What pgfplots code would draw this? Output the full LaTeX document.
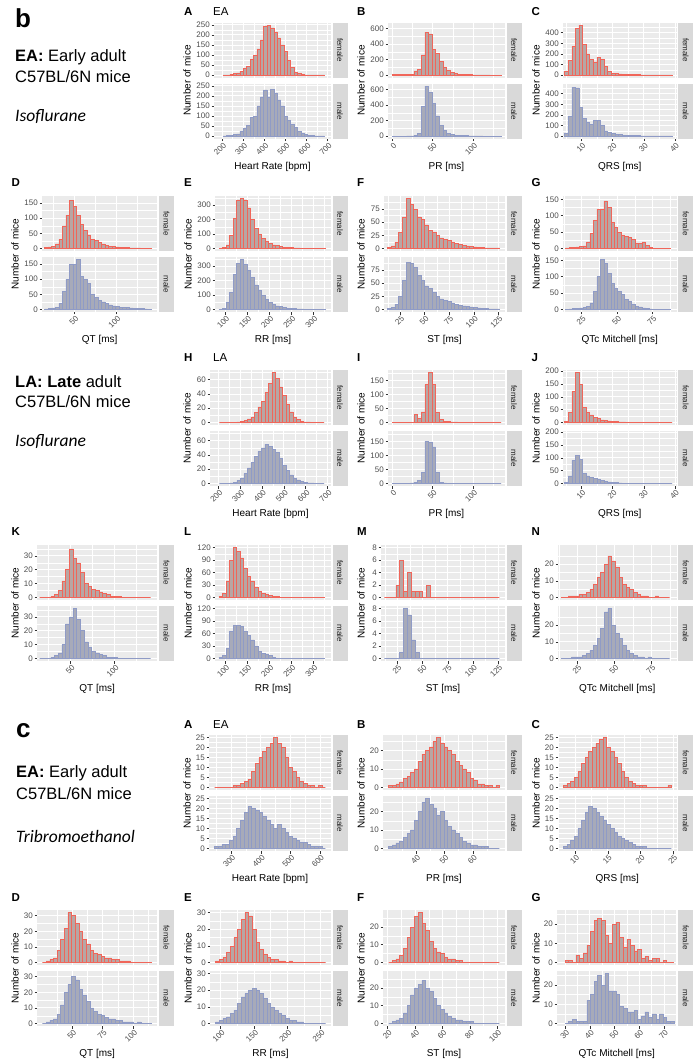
\documentclass[border=0pt]{standalone}
\usepackage{pgfplots}
\pgfplotsset{compat=1.18}
\usepackage{pgfplotstable}
\usepackage{fontspec}
\setmainfont{Liberation Sans}
\newfontfamily\calib{Carlito}

\definecolor{panelbg}{HTML}{EBEBEB}
\definecolor{stripbg}{HTML}{D9D9D9}
\definecolor{ticktxt}{HTML}{4D4D4D}
\definecolor{tickln}{HTML}{333333}
\definecolor{femline}{HTML}{F0665A}
\definecolor{femfill}{HTML}{B8A6A4}
\definecolor{malline}{HTML}{8F9BC6}
\definecolor{malfill}{HTML}{A7AAB9}

% ---------- data: bin centre, female count, male count ----------
\pgfplotstableread{
x f m
213 1 1
229 2 3
245 4 5
261 8 8
277 12 12
293 20 25
309 35 40
325 45 55
341 80 95
357 100 100
373 130 150
389 175 195
405 245 230
421 248 195
437 235 232
453 215 215
469 185 180
485 150 150
501 120 100
517 75 80
533 40 60
549 15 45
565 8 25
581 3 15
597 2 8
613 2 5
629 1 3
645 1 2
661 1 1
677 1 1
}\tA
\pgfplotstableread{
x f m
2 8 2
6.5 8 2
11 8 2
15.5 8 2
20 8 3
24.5 10 5
29 55 15
33.5 75 40
38 260 380
42.5 550 640
47 530 560
51.5 330 420
56 280 260
60.5 180 140
65 100 70
69.5 60 40
74 40 25
78.5 25 15
83 15 10
87.5 10 8
92 8 6
96.5 6 5
101 5 4
105.5 4 3
110 4 3
114.5 3 2
119 3 2
123.5 2 2
128 2 2
132.5 2 2
}\tB
\pgfplotstableread{
x f m
5.2 40 30
6.35 140 190
7.5 270 460
8.65 440 455
9.8 470 270
10.95 290 170
12.1 200 130
13.25 150 110
14.4 125 150
15.55 170 150
16.7 150 100
17.85 80 50
19 40 35
20.15 20 25
21.3 15 20
22.45 12 15
23.6 10 10
24.75 8 8
25.9 6 6
27.05 5 5
28.2 5 5
29.35 4 4
30.5 4 3
31.65 3 3
32.8 3 3
33.95 3 2
35.1 2 2
36.25 2 2
37.4 2 2
38.55 2 2
}\tC
\pgfplotstableread{
x f m
17 3 2
21.2 5 3
25.4 8 5
29.6 15 8
33.8 30 20
38 75 60
42.2 110 100
46.4 160 150
50.6 140 150
54.8 110 165
59 80 110
63.2 60 100
67.4 45 85
71.6 30 50
75.8 28 40
80 20 30
84.2 15 25
88.4 10 20
92.6 8 15
96.8 6 12
101 5 10
105.2 4 8
109.4 3 7
113.6 3 6
117.8 2 5
122 2 4
126.2 2 3
130.4 1 3
134.6 1 2
138.8 1 1
}\tD
\pgfplotstableread{
x f m
90 3 2
98 10 10
106 25 50
114 90 120
122 210 240
130 335 320
138 345 345
146 335 310
154 280 270
162 200 220
170 140 170
178 100 130
186 70 100
194 50 70
202 35 50
210 25 35
218 20 25
226 15 20
234 10 15
242 8 10
250 6 8
258 5 6
266 4 5
274 3 4
282 3 3
290 2 2
298 2 2
306 2 1
314 1 1
322 1 1
}\tE
\pgfplotstableread{
x f m
14 2 2
17.8 5 4
21.6 12 10
25.4 30 25
29.2 60 55
33 95 90
36.8 85 88
40.6 75 80
44.4 60 65
48.2 55 55
52 45 45
55.8 35 40
59.6 30 32
63.4 25 25
67.2 20 20
71 18 18
74.8 15 15
78.6 12 12
82.4 10 10
86.2 8 8
90 6 7
93.8 5 6
97.6 4 5
101.4 3 4
105.2 2 3
109 2 2
112.8 1 2
116.6 1 1
120.4 1 1
124.2 1 1
}\tF
\pgfplotstableread{
x f m
15 2 1
17.45 3 2
19.9 4 3
22.35 5 4
24.8 6 5
27.25 8 6
29.7 20 10
32.15 45 20
34.6 85 55
37.05 120 100
39.5 120 152
41.95 145 140
44.4 125 110
46.85 80 80
49.3 65 65
51.75 50 55
54.2 40 45
56.65 38 30
59.1 35 25
61.55 28 15
64 15 10
66.45 15 8
68.9 20 5
71.35 10 3
73.8 3 2
76.25 1 1
78.7 1 1
81.15 1 1
83.6 1 1
86.05 1 1
}\tG
\pgfplotstableread{
x f m
213 0 0
229 0 0
245 0 0
261 0 1
277 0 2
293 1 4
309 2 8
325 3 14
341 5 22
357 8 30
373 14 38
389 22 45
405 30 50
421 42 55
437 55 52
453 70 48
469 62 44
485 50 35
501 38 25
517 25 18
533 15 12
549 8 8
565 4 5
581 2 3
597 1 2
613 1 1
629 0 1
645 0 0
661 0 0
677 0 0
}\tH
\pgfplotstableread{
x f m
2 0 0
6.5 0 0
11 0 0
15.5 0 0
20 0 1
24.5 0 2
29 28 5
33.5 15 10
38 38 40
42.5 135 150
47 178 148
51.5 135 130
56 35 40
60.5 10 5
65 5 2
69.5 3 1
74 2 1
78.5 2 1
83 1 1
87.5 1 1
92 1 1
96.5 1 1
101 1 1
105.5 1 1
110 1 1
114.5 1 1
119 1 0
123.5 0 0
128 0 0
132.5 0 0
}\tI
\pgfplotstableread{
x f m
5.2 5 5
6.35 40 30
7.5 120 90
8.65 195 110
9.8 150 95
10.95 60 40
12.1 40 30
13.25 30 25
14.4 20 20
15.55 15 15
16.7 10 12
17.85 8 8
19 6 6
20.15 4 4
21.3 3 3
22.45 2 2
23.6 2 1
24.75 1 1
25.9 1 1
27.05 1 1
28.2 1 1
29.35 1 1
30.5 1 0
31.65 1 0
32.8 0 0
33.95 0 0
35.1 0 0
36.25 0 0
37.4 0 0
38.55 0 0
}\tJ
\pgfplotstableread{
x f m
17 0 0
21.2 0 0
25.4 0 0
29.6 1 1
33.8 2 2
38 5 4
42.2 12 10
46.4 20 25
50.6 35 30
54.8 28 36
59 25 28
63.2 18 20
67.4 10 12
71.6 8 8
75.8 6 5
80 5 4
84.2 4 3
88.4 3 2
92.6 2 1
96.8 1 1
101 1 1
105.2 1 0
109.4 0 0
113.6 0 0
117.8 0 0
122 0 0
126.2 0 0
130.4 0 0
134.6 0 0
138.8 0 0
}\tK
\pgfplotstableread{
x f m
90 2 3
98 10 8
106 40 25
114 90 65
122 120 80
130 110 80
138 95 78
146 70 65
154 50 55
162 40 45
170 25 30
178 15 18
186 10 12
194 8 10
202 5 8
210 3 2
218 2 1
226 1 1
234 1 1
242 1 1
250 1 1
258 0 1
266 0 1
274 0 1
282 0 1
290 0 1
298 0 1
306 0 1
314 0 1
322 0 0
}\tL
\pgfplotstableread{
x f m
14 0 0
17.8 0 0
21.6 0 0
25.4 2 0
29.2 6 1
33 1 8
36.8 4 7
40.6 1 3
44.4 1 1
48.2 1 0
52 0 0
55.8 2 0
59.6 0 0
63.4 0 0
67.2 0 0
71 0 0
74.8 0 0
78.6 0 0
82.4 0 0
86.2 0 0
90 0 0
93.8 0 0
97.6 0 0
101.4 0 0
105.2 0 0
109 0 0
112.8 0 0
116.6 0 0
120.4 0 0
124.2 0 0
}\tM
\pgfplotstableread{
x f m
15 0 0
17.45 0 0
19.9 1 0
22.35 1 1
24.8 1 1
27.25 2 1
29.7 2 2
32.15 3 3
34.6 5 5
37.05 8 8
39.5 12 12
41.95 15 18
44.4 20 28
46.85 25 30
49.3 22 20
51.75 18 15
54.2 12 12
56.65 8 8
59.1 6 5
61.55 5 3
64 3 2
66.45 2 1
68.9 1 1
71.35 1 0
73.8 0 1
76.25 0 0
78.7 1 0
81.15 0 0
83.6 0 0
86.05 0 0
}\tN
\pgfplotstableread{
x f m
250 0 1
262.5 0 1
275 0 2
287.5 0 2
300 0 4
312.5 1 6
325 1 10
337.5 2 14
350 3 18
362.5 4 21
375 8 20
387.5 12 19
400 15 18
412.5 18 16
425 20 14
437.5 22 12
450 25 10
462.5 22 12
475 20 10
487.5 15 8
500 10 6
512.5 8 5
525 5 4
537.5 3 3
550 2 3
562.5 1 2
575 1 1
587.5 0 1
600 1 1
612.5 0 0
}\uA
\pgfplotstableread{
x f m
31 1 1
32.3 1 2
33.6 2 3
34.9 3 4
36.2 5 6
37.5 6 8
38.8 8 10
40.1 10 15
41.4 14 20
42.7 18 25
44 20 27
45.3 22 24
46.6 25 22
47.9 27 18
49.2 24 20
50.5 22 15
51.8 20 12
53.1 18 10
54.4 14 8
55.7 12 6
57 10 4
58.3 8 3
59.6 5 2
60.9 4 2
62.2 2 1
63.5 2 1
64.8 1 1
66.1 1 0
67.4 0 0
68.7 1 0
}\uB
\pgfplotstableread{
x f m
8.5 1 1
9.05 2 2
9.6 3 4
10.15 5 6
10.7 8 10
11.25 12 14
11.8 15 18
12.35 18 21
12.9 20 20
13.45 22 18
14 24 16
14.55 25 14
15.1 20 12
15.65 18 10
16.2 15 8
16.75 12 6
17.3 8 5
17.85 5 4
18.4 3 3
18.95 2 2
19.5 1 1
20.05 1 1
20.6 1 1
21.15 0 0
21.7 0 0
22.25 0 0
22.8 0 0
23.35 0 0
23.9 0 0
24.45 1 0
}\uC
\pgfplotstableread{
x f m
27 0 0
30 1 1
33 2 2
36 3 3
39 8 6
42 15 12
45 22 20
48 32 25
51 30 30
54 25 28
57 20 22
60 15 18
63 12 14
66 8 10
69 6 8
72 5 6
75 4 5
78 3 4
81 3 3
84 2 3
87 2 2
90 1 2
93 1 1
96 1 1
99 0 1
102 0 0
105 0 1
108 0 0
111 0 0
114 0 0
}\uD
\pgfplotstableread{
x f m
95 1 1
100.5 2 2
106 3 3
111.5 6 4
117 10 6
122.5 15 8
128 20 12
133.5 26 16
139 30 18
144.5 28 20
150 20 21
155.5 12 20
161 8 18
166.5 5 15
172 3 12
177.5 2 10
183 2 8
188.5 1 6
194 1 5
199.5 0 3
205 1 2
210.5 0 2
216 0 1
221.5 0 1
227 0 0
232.5 0 0
238 0 0
243.5 0 0
249 0 0
254.5 0 0
}\uE
\pgfplotstableread{
x f m
22 0 0
24.7 1 1
27.4 2 2
30.1 4 3
32.8 8 6
35.5 14 10
38.2 20 16
40.9 26 20
43.6 28 22
46.3 22 24
49 18 20
51.7 12 18
54.4 8 14
57.1 6 10
59.8 5 8
62.5 3 6
65.2 2 4
67.9 2 3
70.6 1 2
73.3 1 2
76 0 1
78.7 0 1
81.4 0 1
84.1 0 0
86.8 0 0
89.5 0 0
92.2 0 0
94.9 0 0
97.6 0 0
100.3 0 0
}\uF
\pgfplotstableread{
x f m
30.7 1 0
32.17 1 1
33.64 0 2
35.11 4 1
36.58 2 1
38.05 5 1
39.52 9 12
40.99 16 15
42.46 22 22
43.93 23 25
45.4 22 20
46.87 14 26
48.34 10 17
49.81 20 17
51.28 21 15
52.75 13 9
54.22 8 8
55.69 12 6
57.16 9 6
58.63 6 7
60.1 7 2
61.57 2 4
63.04 3 6
64.51 1 3
65.98 2 5
67.45 2 2
68.92 0 5
70.39 1 3
71.86 0 1
73.33 0 1
}\uG

\tikzset{strip/.style={rotate=-90, font=\fontsize{8}{9}\selectfont, text=black!88, inner sep=0pt}}
\pgfplotsset{
  gg/.style={scale only axis, height=55pt, anchor=north west,
    axis background/.style={fill=panelbg},
    axis line style={draw=none},
    grid=both, minor tick length=0pt,
    major grid style={white, line width=0.8pt},
    minor grid style={white, line width=0.4pt},
    tick align=outside, major tick length=2.5pt,
    tick style={tickln, line width=0.5pt},
    xtick pos=left, ytick pos=left,
    tick label style={font=\fontsize{8}{9}\selectfont, text=ticktxt},
    /pgf/number format/assume math mode=true,
    xticklabel style={rotate=45, anchor=north east, inner sep=0.5pt, xshift=0.5pt, yshift=-0.5pt},
    yticklabel style={inner sep=1.5pt},
    xlabel style={at={(axis description cs:0.5,0)}, anchor=center, inner sep=0pt, yshift=-28pt, font=\fontsize{10}{12}\selectfont},
  },
  fem/.style={ybar, bar shift=0pt, draw=femline, fill=femfill, line width=0.5pt},
  mal/.style={ybar, bar shift=0pt, draw=malline, fill=malfill, line width=0.5pt},
  % panel scales
  pA/.style={xmin=162, xmax=716, xtick={200,300,...,700}, minor xtick={250,350,...,650}, bar width=16,
    ymin=-12.4, ymax=260.4, ytick={0,50,...,250}, minor ytick={25,75,...,225}},
  pB/.style={xmin=-5.4, xmax=139.6, xtick={0,50,100}, minor xtick={25,75,125}, bar width=4.5,
    ymin=-32, ymax=672, ytick={0,200,400,600}, minor ytick={100,300,500}},
  pC/.style={xmin=4.1, xmax=40.5, xtick={10,20,30,40}, minor xtick={5,15,25,35}, bar width=1.15,
    ymin=-23.5, ymax=493.5, ytick={0,100,...,400}, minor ytick={50,150,...,450}},
  pD/.style={xmin=11.8, xmax=148.4, xtick={50,100}, minor xtick={25,75,125}, bar width=4.2,
    ymin=-8.25, ymax=173.25, ytick={0,50,100,150}, minor ytick={25,75,125}},
  pE/.style={xmin=77, xmax=340, xtick={100,150,...,300}, minor xtick={125,175,...,325}, bar width=8,
    ymin=-17.25, ymax=362.25, ytick={0,100,200,300}, minor ytick={50,150,250,350}},
  pF/.style={xmin=8.7, xmax=131.8, xtick={25,50,...,125}, minor xtick={12.5,37.5,...,112.5}, bar width=3.8,
    ymin=-4.75, ymax=99.75, ytick={0,25,50,75}, minor ytick={12.5,37.5,62.5,87.5}},
  pG/.style={xmin=11.9, xmax=92, xtick={25,50,75}, minor xtick={12.5,37.5,62.5,87.5}, bar width=2.45,
    ymin=-7.6, ymax=160, ytick={0,50,100,150}, minor ytick={25,75,125}},
  pH/.style={pA, ymin=-3.5, ymax=73.5, ytick={0,20,40,60}, minor ytick={10,30,50,70}},
  pI/.style={pB, ymin=-8.9, ymax=186.9, ytick={0,50,100,150}, minor ytick={25,75,125,175}},
  pJ/.style={pC, ymin=-9.75, ymax=204.75, ytick={0,50,...,200}, minor ytick={25,75,125,175}},
  pK/.style={pD, ymin=-1.8, ymax=37.8, ytick={0,10,20,30}, minor ytick={5,15,25,35}},
  pL/.style={pE, ymin=-6, ymax=126, ytick={0,30,...,120}, minor ytick={15,45,75,105}},
  pM/.style={pF, ymin=-0.4, ymax=8.4, ytick={0,2,...,8}, minor ytick={1,3,5,7}},
  pN/.style={pG, ymin=-1.5, ymax=31.5, ytick={0,10,20}, minor ytick={5,15,25}},
  qA/.style={xmin=225, xmax=637.5, xtick={300,400,500,600}, minor xtick={250,350,450,550}, bar width=12.5,
    ymin=-1.25, ymax=26.25, ytick={0,5,...,25}, minor ytick={2.5,7.5,...,22.5}},
  qB/.style={xmin=28.4, xmax=71.3, xtick={40,50,60}, minor xtick={35,45,55,65}, bar width=1.3,
    ymin=-1.35, ymax=28.35, ytick={0,10,20}, minor ytick={5,15,25}},
  qC/.style={xmin=7.4, xmax=25.5, xtick={10,15,20,25}, minor xtick={7.5,12.5,17.5,22.5}, bar width=0.55,
    ymin=-1.25, ymax=26.25, ytick={0,5,...,25}, minor ytick={2.5,7.5,...,22.5}},
  qD/.style={xmin=21, xmax=120, xtick={50,75,100}, minor xtick={37.5,62.5,87.5,112.5}, bar width=3,
    ymin=-1.6, ymax=33.6, ytick={0,10,20,30}, minor ytick={5,15,25}},
  qE/.style={xmin=84, xmax=265.5, xtick={100,150,200,250}, minor xtick={125,175,225}, bar width=5.5,
    ymin=-1.5, ymax=31.5, ytick={0,10,20,30}, minor ytick={5,15,25}},
  qF/.style={xmin=16.6, xmax=105.7, xtick={20,40,...,100}, minor xtick={30,50,70,90}, bar width=2.7,
    ymin=-1.4, ymax=29.4, ytick={0,10,20}, minor ytick={5,15,25}},
  qG/.style={xmin=26.7, xmax=75.1, xtick={30,40,...,70}, minor xtick={35,45,55,65,75}, bar width=1.47,
    ymin=-1.3, ymax=27.3, ytick={0,10,20}, minor ytick={5,15,25}},
}

% #1 plot left, #2 plot right, #3 top (image px), #4 scale style, #5 x title, #6 y title x, #7 table
\newcommand\panel[7]{%
  \pgfmathsetmacro\pW{#2-(#1)}%
  \pgfmathsetmacro\yF{-(#3)}%
  \pgfmathsetmacro\yM{-(#3)-61}%
  \begin{axis}[gg,#4,at={(#1pt,\yF pt)},width=\pW pt,xticklabels={},xtick style={draw=none}]
    \addplot[fem] table[x=x,y=f]{#7};
  \end{axis}
  \begin{axis}[gg,#4,at={(#1pt,\yM pt)},width=\pW pt,xlabel={#5}]
    \addplot[mal] table[x=x,y=m]{#7};
  \end{axis}
  \begin{scope}[x=1pt,y=-1pt]
    \fill[stripbg] (#2+1.6,#3) rectangle (#2+16.6,#3+55);
    \fill[stripbg] (#2+1.6,#3+61) rectangle (#2+16.6,#3+116);
    \node[strip] at (#2+9.1,#3+27.5) {female};
    \node[strip] at (#2+9.1,#3+88.5) {male};
    \node[rotate=90,inner sep=0pt,font=\fontsize{10}{12}\selectfont] at (#6,#3+58) {Number of mice};
  \end{scope}}

\begin{document}
\begin{tikzpicture}
\useasboundingbox (0,0) rectangle (700pt,-1064pt);

% section b, early adult
\panel{214}{331}{22.7}{pA}{Heart Rate [bpm]}{187}{\tA}
\panel{388}{505}{22.7}{pB}{PR [ms]}{361}{\tB}
\panel{563}{676.5}{22.7}{pC}{QRS [ms]}{536}{\tC}
\panel{42}{157.3}{196}{pD}{QT [ms]}{15}{\tD}
\panel{215}{331}{196}{pE}{RR [ms]}{188}{\tE}
\panel{384}{505}{196}{pF}{ST [ms]}{361}{\tF}
\panel{563}{676.5}{196}{pG}{QTc Mitchell [ms]}{536}{\tG}
% section b, late adult
\panel{210}{331}{370}{pH}{Heart Rate [bpm]}{187}{\tH}
\panel{388}{505}{370}{pI}{PR [ms]}{361}{\tI}
\panel{563}{676.5}{370}{pJ}{QRS [ms]}{536}{\tJ}
\panel{37}{157.3}{545}{pK}{QT [ms]}{15}{\tK}
\panel{215}{331}{545}{pL}{RR [ms]}{188}{\tL}
\panel{381}{505}{545}{pM}{ST [ms]}{361}{\tM}
\panel{558}{676.5}{545}{pN}{QTc Mitchell [ms]}{536}{\tN}
% section c
\panel{209}{331}{735}{qA}{Heart Rate [bpm]}{187}{\uA}
\panel{383}{505}{735}{qB}{PR [ms]}{361}{\uB}
\panel{558}{676.5}{735}{qC}{QRS [ms]}{536}{\uC}
\panel{37}{157.3}{910}{qD}{QT [ms]}{15}{\uD}
\panel{210}{331}{910}{qE}{RR [ms]}{188}{\uE}
\panel{383}{505}{910}{qF}{ST [ms]}{361}{\uF}
\panel{557}{676.5}{910}{qG}{QTc Mitchell [ms]}{536}{\uG}

\begin{scope}[x=1pt,y=-1pt]
  \tikzset{let/.style={anchor=west,inner sep=0pt,font=\bfseries\fontsize{11.5}{12}\selectfont},
           grp/.style={anchor=west,inner sep=0pt,font=\fontsize{11.5}{12}\selectfont},
           big/.style={anchor=west,inner sep=0pt,font=\fontsize{16.5}{19}\selectfont},
           drug/.style={anchor=west,inner sep=0pt,font=\calib\itshape\fontsize{17.5}{19}\selectfont}}
  % panel letters
  \node[let] at (184,12) {A}; \node[grp] at (213,12) {EA};
  \node[let] at (357,12) {B}; \node[let] at (531.5,12) {C};
  \node[let] at (11.5,183) {D}; \node[let] at (184,183) {E};
  \node[let] at (357,183) {F}; \node[let] at (531.5,183) {G};
  \node[let] at (184,358) {H}; \node[grp] at (213,358) {LA};
  \node[let] at (357,358) {I}; \node[let] at (531.5,358) {J};
  \node[let] at (11.5,532) {K}; \node[let] at (184,532) {L};
  \node[let] at (357,532) {M}; \node[let] at (531.5,532) {N};
  \node[let] at (184,725) {A}; \node[grp] at (213,725) {EA};
  \node[let] at (357,725) {B}; \node[let] at (531.5,725) {C};
  \node[let] at (11.5,898) {D}; \node[let] at (184,898) {E};
  \node[let] at (357,898) {F}; \node[let] at (531.5,898) {G};
  % group descriptions
  \node[anchor=west,inner sep=0pt,font=\bfseries\fontsize{26}{28}\selectfont] at (15,18) {b};
  \node[big] at (15,57) {\textbf{EA:} Early adult};
  \node[big] at (15,77) {C57BL/6N mice};
  \node[drug] at (15,117) {Isoflurane};
  \node[big] at (15,382) {\textbf{LA: Late} adult};
  \node[big] at (15,402) {C57BL/6N mice};
  \node[drug] at (15,442) {Isoflurane};
  \node[anchor=west,inner sep=0pt,font=\bfseries\fontsize{26}{28}\selectfont] at (16,731) {c};
  \node[big] at (16,773) {\textbf{EA:} Early adult};
  \node[big] at (16,794) {C57BL/6N mice};
  \node[drug] at (16,836) {Tribromoethanol};
\end{scope}
\end{tikzpicture}
\end{document}
